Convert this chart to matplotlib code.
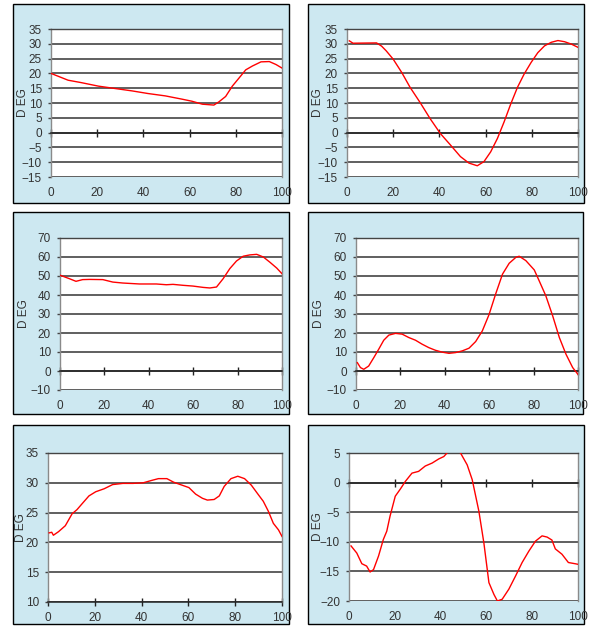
import matplotlib.pyplot as plt
from matplotlib.patches import Rectangle

plt.rcParams['font.family'] = ['Liberation Sans', 'DejaVu Sans']

# panel 1
x1 = [0, 7.4, 13, 20.5, 27.7, 35, 42, 49.5, 56.7, 61, 65.5, 70.5, 72.7, 75.6, 78.5, 82.1, 84.3, 87.2, 90.9, 94.5, 97.4, 100]
y1 = [20, 17.7, 16.9, 15.7, 14.9, 14.1, 13.2, 12.4, 11.3, 10.6, 9.6, 9.3, 10.4, 12.2, 15.7, 19.1, 21.2, 22.5, 23.9, 24, 23, 21.8]
# panel 2
x2 = [1, 2.6, 12.8, 15, 17, 20, 23.7, 27.3, 31.7, 36, 40.4, 44.8, 49.1, 52.8, 56.4, 59.3, 62.2, 65.1, 68, 70.9,
      73.8, 76.7, 79.7, 82.6, 85.5, 88.4, 91.3, 94.2, 97.1, 100]
y2 = [31, 30.2, 30.3, 29.2, 27.6, 24.8, 20.3, 15.3, 10.1, 4.7, -0.3, -4.2, -8.1, -10.3, -11.2, -9.8, -6.5, -2, 3.6, 9.7,
      15.3, 19.8, 23.7, 27, 29.3, 30.5, 31.1, 30.7, 29.9, 28.8]
# panel 3
x3 = [0.3, 4.2, 7.2, 10.2, 13.3, 19.3, 23.8, 28.3, 35.8, 43.4, 47.9, 50.9, 55.4, 59.9, 64.5, 67.5, 70.5, 73.5, 76.5,
      79.5, 82.5, 85.5, 88.6, 91.6, 94.6, 97.6, 100]
y3 = [50.3, 48.6, 47.2, 48.1, 48.2, 48.1, 46.8, 46.3, 45.8, 45.8, 45.4, 45.6, 45.1, 44.7, 44, 43.7, 44.2, 48.6, 53.9,
      57.9, 60.4, 61.1, 61.4, 60, 57.2, 54.2, 51.2]
# panel 4
x4 = [0.6, 2, 3.5, 5.7, 8, 10.2, 12.5, 14.8, 17.8, 20.8, 23.8, 26.8, 29.8, 32.8, 35.8, 38.9, 41.9, 44.9, 47.9, 50.9,
      53.9, 56.9, 59.9, 62.9, 66, 69, 72, 73.5, 76.5, 80.3, 82.5, 85.5, 88.6, 91.6, 94.6, 97.6, 100]
y4 = [4.4, 1.8, 0.9, 2.6, 7, 11.4, 16.2, 18.9, 19.8, 19.4, 17.6, 16.2, 14.1, 12.3, 10.9, 9.9, 9.3, 9.7, 10.6, 12,
      15.5, 21.1, 29.6, 40.5, 51, 56.7, 59.8, 60.4, 58.1, 53.2, 47.5, 39.6, 29, 17.6, 8.8, 1.8, -1.8]
# panel 5
x5 = [0.5, 1.6, 2.3, 4.5, 7.4, 10.3, 12.4, 14.6, 17.5, 20.4, 24, 27.6, 32, 36.3, 40.7, 44.3, 47.2, 50.8, 53.7, 57.3,
      60.2, 63.1, 66, 68.1, 71, 73.2, 75.3, 78.2, 81.1, 84, 86.9, 89.9, 92, 94.2, 96.3, 98.5, 100]
y5 = [21.6, 21.7, 21.2, 21.8, 22.8, 24.8, 25.5, 26.5, 27.8, 28.5, 29, 29.7, 29.9, 29.9, 30, 30.4, 30.7, 30.7, 30.1, 29.6,
      29.2, 28.1, 27.4, 27.1, 27.2, 27.8, 29.4, 30.7, 31.1, 30.7, 29.6, 28, 26.9, 25.2, 23.2, 22.1, 21]
# panel 6
x6 = [0.9, 3.4, 5.6, 7.7, 9.2, 10.7, 12.9, 15, 16.5, 17.9, 20.2, 22.4, 24.6, 27.5, 30.4, 33.3, 36.3, 39.2, 41.4, 42.8,
      45.5, 48.7, 51.6, 53.8, 56.7, 58.9, 61.1, 63.3, 64.8, 66.9, 69.8, 72.7, 75.6, 78.5, 81.4, 84.3, 86.5, 88.6,
      90.1, 93, 95.8, 98.7, 100]
y6 = [-10.7, -11.9, -13.7, -14.1, -15.1, -14.7, -12.4, -9.6, -8.2, -5.7, -2.3, -1.1, 0.2, 1.6, 1.9, 2.8, 3.3, 4, 4.4, 5,
      6, 5, 3, 0.5, -4.8, -10.2, -16.9, -18.9, -20, -19.7, -18, -15.8, -13.5, -11.6, -9.9, -9, -9.2, -9.7,
      -11.2, -12.1, -13.5, -13.7, -13.8]

xticks = [0, 20, 40, 60, 80, 100]

W, H = 589, 626
fig = plt.figure(figsize=(W / 100, H / 100), dpi=100)

# (box px, plot px, ylim, ystep, axis-line y, label x, data)
panels = [
    ((13, 4, 289, 203), (51, 29, 282, 177), (-15, 35), 5, 0, 23, x1, y1),
    ((308, 4, 584, 203), (347, 29, 578, 177), (-15, 35), 5, 0, 318, x2, y2),
    ((13, 212, 289, 414), (60, 238, 282, 390), (-10, 70), 10, 0, 24, x3, y3),
    ((308, 212, 583, 414), (356, 238, 578, 390), (-10, 70), 10, 0, 319, x4, y4),
    ((13, 425, 289, 624), (48, 453, 282, 602), (10, 35), 5, 10, 20.5, x5, y5),
    ((308, 425, 584, 624), (349, 453, 578, 601), (-20, 5), 5, 0, 318, x6, y6),
]

for box, pa, ylim, ystep, axy, labx, xs, ys in panels:
    bx0, by0, bx1, by1 = box
    fig.add_artist(Rectangle((bx0 / W, 1 - by1 / H), (bx1 - bx0) / W, (by1 - by0) / H,
                             transform=fig.transFigure, facecolor='#cde8f1',
                             edgecolor='black', lw=1.0, zorder=-5))
    px0, py0, px1, py1 = pa
    ax = fig.add_axes([px0 / W, 1 - py1 / H, (px1 - px0) / W, (py1 - py0) / H])
    ax.set_zorder(1)
    ax.set_facecolor('white')
    ax.plot(xs, ys, color='#ff0000', lw=1.0, zorder=3)
    ax.set_xlim(0, 100)
    ax.set_ylim(*ylim)
    ax.set_yticks(list(range(ylim[0], ylim[1] + 1, ystep)))
    ax.yaxis.grid(True, color='#444444', lw=1.2)
    ax.set_axisbelow(True)
    for s in ['top', 'right', 'left']:
        ax.spines[s].set_color('#8a8a8a')
        ax.spines[s].set_linewidth(1.0)
    ax.spines['top'].set_color('#444444')
    ax.spines['bottom'].set_position(('data', axy))
    ax.spines['bottom'].set_color('#222222')
    ax.spines['bottom'].set_linewidth(1.1)
    ax.set_xticks(xticks)
    ax.tick_params(axis='x', direction='inout', length=6, width=1, color='#222222', labelbottom=False)
    ax.tick_params(axis='y', direction='out', length=2.5, width=1, color='#444444',
                   labelsize=8.5, labelcolor='#333333', pad=4)
    sec = ax.secondary_xaxis('bottom')
    sec.set_xticks(xticks)
    sec.spines['bottom'].set_visible(False)
    sec.tick_params(length=0, pad=7.5, labelsize=8.5, labelcolor='#333333')
    fig.text(labx / W, 1 - (py0 + py1) / 2 / H, 'D EG', rotation=90, ha='center', va='center',
             fontsize=8.5, color='#333333', zorder=2)

fig.savefig('out.png', dpi=100)
